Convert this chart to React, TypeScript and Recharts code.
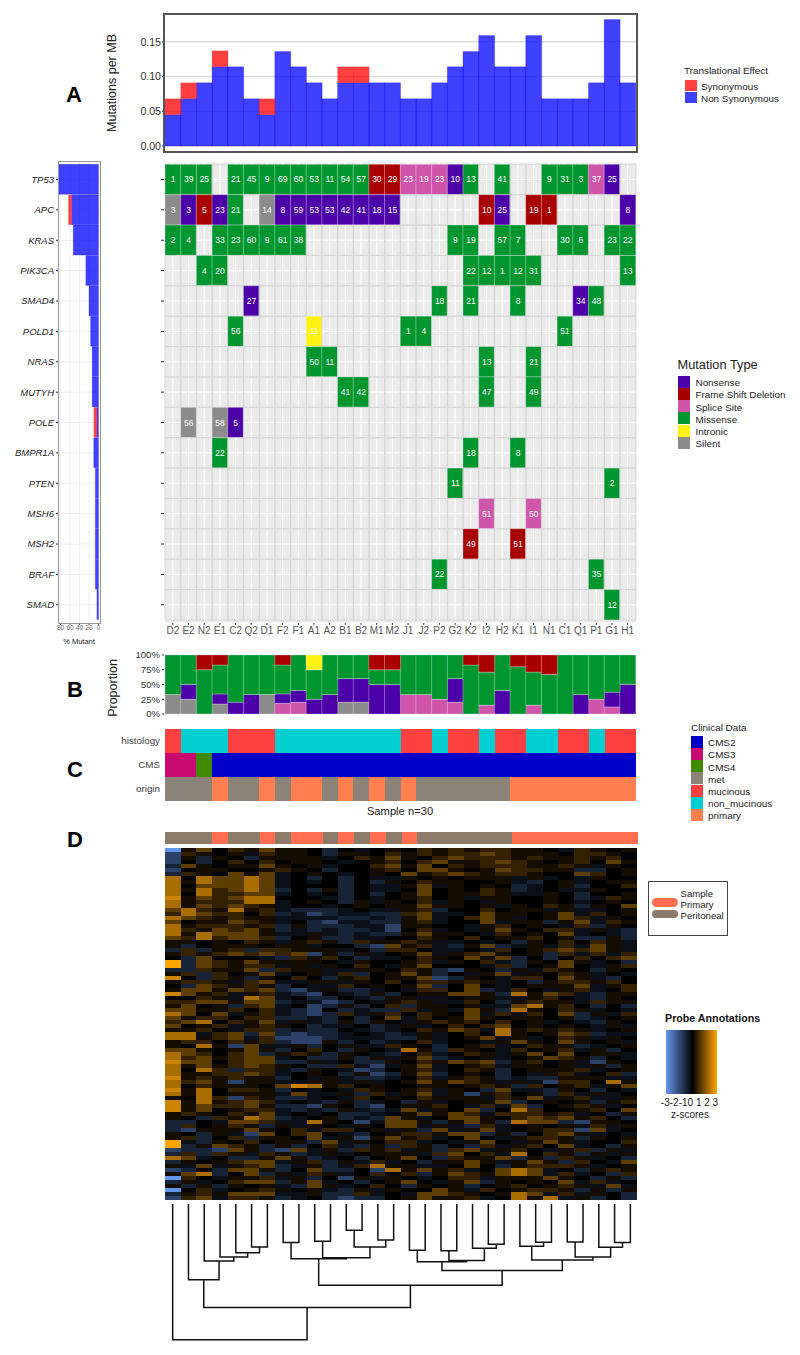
import {
  BarChart,
  Bar,
  Cell,
  LineChart,
  Line,
  LabelList,
  XAxis,
  YAxis,
  CartesianGrid,
} from 'recharts';

const samples = ['D2', 'E2', 'N2', 'E1', 'C2', 'Q2', 'D1', 'F2', 'F1', 'A1', 'A2', 'B1', 'B2', 'M1', 'M2', 'J1', 'J2', 'P2', 'G2', 'K2', 'I2', 'H2', 'K1', 'I1', 'N1', 'C1', 'Q1', 'P1', 'G1', 'H1'];

// Panel A, mutation burden
const nonSynonymous = [0.045, 0.068, 0.091, 0.114, 0.114, 0.068, 0.045, 0.136, 0.114, 0.091, 0.068, 0.091, 0.091, 0.091, 0.091, 0.068, 0.068, 0.091, 0.114, 0.136, 0.159, 0.114, 0.114, 0.159, 0.068, 0.068, 0.068, 0.091, 0.182, 0.091];
const synonymous = [0.023, 0.023, 0, 0.023, 0, 0, 0.023, 0, 0, 0, 0, 0.023, 0.023, 0, 0, 0, 0, 0, 0, 0, 0, 0, 0, 0, 0, 0, 0, 0, 0, 0];

// Oncoplot rows: type letter per sample, then the number printed in the tile
const genes = ['TP53', 'APC', 'KRAS', 'PIK3CA', 'SMAD4', 'POLD1', 'NRAS', 'MUTYH', 'POLE', 'BMPR1A', 'PTEN', 'MSH6', 'MSH2', 'BRAF', 'SMAD'];
const geneTypes = [
  'MMM.MMMMMMMMMFFSSSNM.M..MMMSN.',
  'GNFNM.GNNNNNNNN.....FN.FF....N',
  'MM.MMMMMM.........MM.MM..MM.MM',
  '..MM...............MMMMM.....M',
  '.....N...........M.M..M...NM..',
  '....M....I.....MM........M....',
  '.........MM.........M..M......',
  '...........MM.......M..M......',
  '.G.GN.........................',
  '...M...............M..M.......',
  '..................M.........M.',
  '....................S..S......',
  '...................F..F.......',
  '.................M.........M..',
  '............................M.',
];
const geneVaf = [
  [1, 39, 25, 0, 21, 45, 9, 69, 60, 53, 11, 54, 57, 30, 29, 23, 19, 23, 10, 13, 0, 41, 0, 0, 9, 31, 3, 37, 25, 0],
  [3, 3, 5, 23, 21, 0, 14, 8, 59, 53, 53, 42, 41, 18, 15, 0, 0, 0, 0, 0, 10, 25, 0, 19, 1, 0, 0, 0, 0, 8],
  [2, 4, 0, 33, 23, 60, 9, 61, 38, 0, 0, 0, 0, 0, 0, 0, 0, 0, 9, 19, 0, 57, 7, 0, 0, 30, 6, 0, 23, 22],
  [0, 0, 4, 20, 0, 0, 0, 0, 0, 0, 0, 0, 0, 0, 0, 0, 0, 0, 0, 22, 12, 1, 12, 31, 0, 0, 0, 0, 0, 13],
  [0, 0, 0, 0, 0, 27, 0, 0, 0, 0, 0, 0, 0, 0, 0, 0, 0, 18, 0, 21, 0, 0, 8, 0, 0, 0, 34, 48, 0, 0],
  [0, 0, 0, 0, 56, 0, 0, 0, 0, 11, 0, 0, 0, 0, 0, 1, 4, 0, 0, 0, 0, 0, 0, 0, 0, 51, 0, 0, 0, 0],
  [0, 0, 0, 0, 0, 0, 0, 0, 0, 50, 11, 0, 0, 0, 0, 0, 0, 0, 0, 0, 13, 0, 0, 21, 0, 0, 0, 0, 0, 0],
  [0, 0, 0, 0, 0, 0, 0, 0, 0, 0, 0, 41, 42, 0, 0, 0, 0, 0, 0, 0, 47, 0, 0, 49, 0, 0, 0, 0, 0, 0],
  [0, 56, 0, 58, 5, 0, 0, 0, 0, 0, 0, 0, 0, 0, 0, 0, 0, 0, 0, 0, 0, 0, 0, 0, 0, 0, 0, 0, 0, 0],
  [0, 0, 0, 22, 0, 0, 0, 0, 0, 0, 0, 0, 0, 0, 0, 0, 0, 0, 0, 18, 0, 0, 8, 0, 0, 0, 0, 0, 0, 0],
  [0, 0, 0, 0, 0, 0, 0, 0, 0, 0, 0, 0, 0, 0, 0, 0, 0, 0, 11, 0, 0, 0, 0, 0, 0, 0, 0, 0, 2, 0],
  [0, 0, 0, 0, 0, 0, 0, 0, 0, 0, 0, 0, 0, 0, 0, 0, 0, 0, 0, 0, 51, 0, 0, 50, 0, 0, 0, 0, 0, 0],
  [0, 0, 0, 0, 0, 0, 0, 0, 0, 0, 0, 0, 0, 0, 0, 0, 0, 0, 0, 49, 0, 0, 51, 0, 0, 0, 0, 0, 0, 0],
  [0, 0, 0, 0, 0, 0, 0, 0, 0, 0, 0, 0, 0, 0, 0, 0, 0, 22, 0, 0, 0, 0, 0, 0, 0, 0, 0, 35, 0, 0],
  [0, 0, 0, 0, 0, 0, 0, 0, 0, 0, 0, 0, 0, 0, 0, 0, 0, 0, 0, 0, 0, 0, 0, 0, 0, 0, 0, 0, 12, 0],
];
const typeColors: Record<string, string> = { N: '#4b00a8', F: '#a80000', S: '#cf55ab', M: '#00962f', I: '#fff314', G: '#8c8c8c' };

// % mutant per gene, left bars
const pctNonSyn = [83.3, 56.7, 53.3, 26.7, 20, 16.7, 13.3, 13.3, 3.3, 10, 6.7, 6.7, 6.7, 6.7, 3.3];
const pctSyn = [0, 6.7, 0, 0, 0, 0, 0, 0, 6.7, 0, 0, 0, 0, 0, 0];

// Panel B, proportion of each type per sample (stack order as drawn)
const propSilent = [33, 25, 0, 17, 0, 0, 33, 0, 0, 0, 0, 20, 20, 0, 0, 0, 0, 0, 0, 0, 0, 0, 0, 0, 0, 0, 0, 0, 0, 0];
const propSplice = [0, 0, 0, 0, 0, 0, 0, 18, 20, 0, 0, 0, 0, 0, 0, 33, 33, 25, 20, 0, 15, 0, 0, 15, 0, 0, 0, 25, 12, 0];
const propNonsense = [0, 25, 0, 17, 20, 33, 0, 16, 20, 25, 33, 40, 40, 50, 50, 0, 0, 0, 40, 0, 0, 40, 0, 0, 0, 0, 33, 0, 25, 50];
const propMissense = [67, 50, 75, 49, 80, 67, 67, 49, 60, 50, 67, 40, 40, 25, 25, 67, 67, 75, 40, 83, 56, 60, 80, 56, 67, 100, 67, 75, 63, 50];
const propIntronic = [0, 0, 0, 0, 0, 0, 0, 0, 0, 25, 0, 0, 0, 0, 0, 0, 0, 0, 0, 0, 0, 0, 0, 0, 0, 0, 0, 0, 0, 0];
const propFrameShift = [0, 0, 25, 17, 0, 0, 0, 17, 0, 0, 0, 0, 0, 25, 25, 0, 0, 0, 0, 17, 29, 0, 20, 29, 33, 0, 0, 0, 0, 0];

// Panel C, clinical tracks
const histology = 'mnnnmmmnnnnnnnnmmnmmnmmnnmmnmm';
const cms = ['CMS3', 'CMS3', 'CMS4', ...Array(27).fill('CMS2')];
const origin = 'mmmpmmpmppmpmpmpmmmmmmpppppppp';
const histologyColors: Record<string, string> = { m: '#ff4040', n: '#00ced1' };
const cmsColors: Record<string, string> = { CMS2: '#0000c8', CMS3: '#c8096f', CMS4: '#3f8a00' };
const originColors: Record<string, string> = { m: '#8b8378', p: '#ff7f50' };
const sampleColors: Record<string, string> = { m: '#8b7b68', p: '#ff6e50' };

// Panel D, expression levels, one letter per cell:
// a b c d = blue side, 0 = black, 1..6 = orange side
const heatLevels: Record<string, number> = { a: -3, b: -1.3, c: -0.7, d: -0.3, 0: 0, 1: 0.25, 2: 0.6, 3: 1.1, 4: 2, 5: 2.4, 6: 3 };
const heatTop = [
  'a1302 13110 c0d01 02121 22110 d2101',
  'b2101 d2110 c1102 12122 32111 02210',
  'b1c10 c1111 d0213 10232 22121 12120',
  'b0c02 02011 0d012 02311 23210 12031',
  'c3101 13101 d0023 13021 22211 21d10',
  'b0110 01210 c0012 03310 13221 1cc01',
  'c2103 13d01 0d010 31232 12210 03201',
  '40433 43d0c 0c0dd 10101 11d1d 0d100',
  '41433 43d0d 0c0c1 02110 01dc0 1d011',
  '40333 43d00 0c0dd 13d10 10cd0 1c002',
  '41423 43c0c 1c0dd 03010 21cd0 dd100',
  '40422 33d0d 0c0c0 13011 21dd1 0c001',
  '51323 44000 dc0d0 1201d 11001 0cd21',
  '41222 44d01 0c1d1 02d10 d1001 0d010',
  '41323 21d00 d0101 13110 1d102 1c103',
  '34214 12dcc cd0dd 12c00 2011d 1dd01',
  '24322 02cdb cddcc 23dd0 31101 3d201',
  '43212 11ddd dccdc 13d02 31d01 32d10',
  '30113 21d0c bddcc 12d00 3d11c 13d21',
  '41222 12c1c ccddb 1100d 12010 d2c10',
  '42132 31cdc dccdb 02d0d 13102 2d1dc',
  '41433 31dd1 dcdcc 13110 d2010 3d0dc',
  '32423 32c01 ccdd0 02102 01120 1cc1c',
  '11010 21d12 1c211 21dd0 d0c10 2021d',
  '1c011 1011d 00cb3 12dc1 3cd1d 2d31d',
  'c2c12 c2211 1d0c2 20dd0 d2012 3231d',
  '12123 2323b 1c1d0 13d12 3101c 2d2d2',
  '0c300 0dc21 20cdd 02103 13c0c 02023',
  '6c321 31111 0d100 12d10 2dc10 31d0c',
  '6c321 22d1d 1020d 13000 d2c01 30d12',
  'cc211 3c211 dd110 21cb1 0c1d2 10c10',
  '12c20 13d01 d2c01 31c0d 13d10 21d0d',
  '50c21 c1020 c1201 13bc1 0d220 31dc0',
  '1221d 23dd1 1d102 02212 1d0c1 22120',
  '0c321 21c0d d2010 13c03 0d011 13d12',
  '13313 23cbd 1ccd0 d2203 cd20d 12d02',
  '5312d 12dcb 0dc1c 01133 1c413 2dc11',
  '0021d 43d0c c0dc1 1dd01 1dd12 0dc10',
  '22331 33cdd bc0d1 21dd2 0c121 1d211',
  '1301c 23d0b c1c02 c1101 dd341 20c0c',
  '33112 02dcb 0cdcc 2d1d3 1c410 21d0d',
  '4303d 12dcb c2d12 02103 d2d20 3c1d2',
  '31220 22ccd c0c03 d2013 10110 1cd01',
  '23402 13d1d c1c10 d1212 0201d 0dc10',
];
const heatBottom = [
  '3012d 1210c dd0cd 1d020 23010 10d1d',
  '1120d 22cdc c0dcd 02132 d4121 21d01',
  '44d23 c3cbc cd0dc d1d02 04101 32cdd',
  '44123 d2bbb cdddc c1d01 3d1d0 21d10',
  '12202 12cbb 1c0cd 02d00 d1310 3101d',
  '1041b 3dd1c 01dd2 10c01 2d021 1cd01',
  '33101 31c02 0c10d 41c21 0d201 2d1c0',
  '43202 3c121 c10dc 02d02 1d130 3011d',
  '42312 33d0c c1c1d 13cd0 1d013 21c0d',
  '53302 33cc1 d0cc1 02132 3c120 1db10',
  '41312 3210c c2dbd 13d01 2d110 1d1c1',
  '4042c 22dc1 0dbc0 12d02 1c011 12d01',
  '41122 32d01 0c1bc 13c01 0c0d1 2d02c',
  '51212 11c0d 1dccd 02d12 1cdcc 111dd',
  '4231b 11dd1 1d1d0 13132 1d1db 22041',
  '40211 10354 12010 01101 21c20 12d13',
  '51402 21c0d 0d210 12d10 c3ddc 10c0d',
  '41401 11d3d d1c2d 13d1b 1201c 2d1d0',
  '1042b 21ccd 0d201 02111 d213d 12dd1',
  '51412 32d0d c1cd0 c1d01 13c01 01c12',
  '51322 31ccb 10cb0 1120d 2d3c0 121d0',
  '51301 22dcd c1dcd 3d103 c0420 01203',
  '12102 13d0d 0ccd0 13132 d2221 2d0c1',
  '10c21 43cd0 1cdc3 1d033 10232 3120c',
  'cc0d3 32dd4 10bd3 31c13 1c433 cb110',
  'c2012 1c1d1 0d103 3d1dc 2d010 1d2d1',
  'cb111 3102d 2201d 1c3d1 3d012 2b3d0',
  '10c1d b3023 0dc01 22133 c1c02 31d0d',
  '12c02 c1103 d1b13 12d03 0d122 1c101',
  '6dc10 2011c 3d102 2d0d1 30d13 1d002',
  '6c132 1c1c0 2dc1c 21c0c 2d120 3d0c1',
  'bccb3 1cb3d 1c212 d1c23 d120d 12c1d',
  'c2c21 d21cd 1d011 1d230 2d402 1c1d1',
  '43d0c c131c d0c01 30c21 13c1c 21d0c',
  'c1012 33d12 c1d2d 0c113 1d131 c20d3',
  '1d3d1 23cd1 cd241 1dd03 0c122 21d01',
  'bc0c3 31c03 cc0b4 1312d 0343d 0c121',
  '134c0 3c1d2 1d020 2c132 1343d 2d0c2',
  'a20d1 12d1c 0b1d1 0d022 d1113 10c1c',
  'c1d02 33c13 d0c01 30d13 c1010 3d2d0',
  '1c1c1 01dc3 1d020 c101c 01201 21d3d',
  'a02d0 12101 dc1d1 0031d 20122 1c1c1',
  'c1213 33dd1 cc2d0 d3321 0143d 2d10c',
  'b23d2 21cd0 cbcc0 13112 d0414 d1c0c',
];
const heatRows = [...heatTop, ...heatBottom].map((r) => r.replace(/ /g, ''));

// Dendrogram merges: left child, right child, height. A child >= 0 is a sample
// position, a negative child -n is the n-th merge in this list.
const merges: [number, number, number][] = [
  [5, 6, 42.7], [4, -1, 48.3], [3, -2, 52.7], [2, -3, 56.7], [1, -4, 75.3],
  [7, 8, 38.3], [9, 10, 37], [11, 12, 26], [13, 14, 35.7], [-8, -9, 42.7],
  [-7, -10, 53.3], [-6, -11, 54.3], [15, 16, 46], [17, 18, 46.3], [20, 21, 40],
  [19, -15, 44], [-14, -16, 56], [-13, -17, 57.3], [23, 24, 38], [22, -19, 42],
  [25, 26, 37.7], [28, 29, 38.3], [27, -22, 43], [-21, -23, 52.7], [-20, -24, 55.7],
  [-18, -25, 66], [-12, -26, 80.7], [-5, -27, 102.7], [0, -28, 134.7],
];

const mutationLegend = [['Nonsense', 'N'], ['Frame Shift Deletion', 'F'], ['Splice Site', 'S'], ['Missense', 'M'], ['Intronic', 'I'], ['Silent', 'G']];
const clinicalLegend = [['CMS2', '#0000c8'], ['CMS3', '#c8096f'], ['CMS4', '#3f8a00'], ['met', '#8b8378'], ['mucinous', '#ff4040'], ['non_mucinous', '#00ced1'], ['primary', '#ff7f50']];

const FONT = '"Liberation Sans", Arial, sans-serif';
const m0 = { top: 0, right: 0, bottom: 0, left: 0 };
const crisp = { shapeRendering: 'crispEdges' };

function heatColor(z: number) {
  const t = Math.min(Math.abs(z) / 3, 1);
  const to = z < 0 ? [100, 149, 237] : [255, 165, 0];
  return `rgb(${Math.round(to[0] * t)},${Math.round(to[1] * t)},${Math.round(to[2] * t)})`;
}

function Txt({ x, y, size = 9.9, bold, color = '#222', center, rotate, children }: any) {
  const shift = center ? 'translate(-50%,-50%)' : 'translateY(-50%)';
  return (
    <div style={{ position: 'absolute', left: x, top: y, fontSize: size, fontWeight: bold ? 700 : 400, color, whiteSpace: 'nowrap', transform: rotate ? `${shift} rotate(-90deg)` : shift }}>
      {children}
    </div>
  );
}

function Box({ x, y, w, h, color, border, radius }: any) {
  return <div style={{ position: 'absolute', left: x, top: y, width: w, height: h, background: color, border, borderRadius: radius, boxSizing: 'border-box' }} />;
}

function Place({ x, y, children, style }: any) {
  return <div style={{ position: 'absolute', left: x, top: y, ...style }}>{children}</div>;
}

const emptyTick = () => <g />;

function MutationBurden() {
  const data = samples.map((s, i) => ({ s, non: nonSynonymous[i], syn: synonymous[i] }));
  return (
    <BarChart width={637} height={138} data={data} margin={m0} barCategoryGap={0}>
      <CartesianGrid horizontal vertical={false} stroke="#dcdcdc" strokeWidth={1.4} />
      <XAxis dataKey="s" hide padding={{ left: 1, right: 1.5 }} />
      <YAxis width={164} domain={[-0.0086, 0.19]} ticks={[0, 0.05, 0.1, 0.15]} interval={0} tickFormatter={(v) => v.toFixed(2)} allowDataOverflow axisLine={false} tickSize={2} tickMargin={1} tick={{ fontSize: 10.6, fill: '#333' }} tickLine={{ stroke: '#333' }} />
      <Bar dataKey="non" stackId="a" fill="#0000ff" fillOpacity={0.75} stroke="#0000ff" strokeOpacity={0.2} isAnimationActive={false} />
      <Bar dataKey="syn" stackId="a" fill="#ff0000" fillOpacity={0.75} stroke="#ff0000" strokeOpacity={0.1} isAnimationActive={false} />
    </BarChart>
  );
}

function GeneBars() {
  const data = genes.map((g, i) => ({ g, non: pctNonSyn[i], syn: pctSyn[i] }));
  return (
    <BarChart layout="vertical" width={100} height={487} data={data} margin={m0} barCategoryGap={0}>
      <CartesianGrid stroke="#f0f0f0" />
      <XAxis type="number" reversed domain={[-3.2, 85.3]} ticks={[80, 60, 40, 20, 0]} interval={0} allowDataOverflow axisLine={false} tickSize={2} tickMargin={0} height={26} tick={{ fontSize: 6.5, fill: '#666' }} tickLine={{ stroke: '#555' }} />
      <YAxis type="category" dataKey="g" width={58} interval={0} padding={{ top: 2.3, bottom: 3 }} axisLine={false} tickSize={2} tickMargin={2} tick={{ fontSize: 9.5, fontStyle: 'italic', fill: '#222' }} tickLine={{ stroke: '#333' }} />
      <Bar dataKey="non" stackId="a" fill="#0000ff" fillOpacity={0.75} stroke="#0000ff" strokeOpacity={0.2} isAnimationActive={false} />
      <Bar dataKey="syn" stackId="a" fill="#ff0000" fillOpacity={0.75} isAnimationActive={false} />
    </BarChart>
  );
}

function OncoPlot() {
  const data = samples.map((s) => {
    const row: Record<string, any> = { s };
    genes.forEach((g) => (row[g] = 1));
    return row;
  });
  return (
    <BarChart width={637} height={491} data={data} margin={m0} barCategoryGap={0}>
      <CartesianGrid fill="#ebebeb" fillOpacity={1} stroke="#ffffff" strokeWidth={1.2} />
      <XAxis dataKey="s" interval={0} height={30} padding={{ left: 1, right: 1.5 }} axisLine={false} tickSize={2} tickMargin={2} tick={{ fontSize: 10, fill: '#555' }} tickLine={{ stroke: '#444' }} />
      <YAxis width={164} reversed domain={[-0.076, 15.1]} ticks={genes.map((_, i) => i + 0.5)} interval={0} allowDataOverflow axisLine={false} tick={emptyTick} tickSize={3} tickLine={{ stroke: '#333' }} />
      {genes.map((g, row) => (
        <Bar key={g} dataKey={g} stackId="a" isAnimationActive={false}>
          {samples.map((s, i) => {
            const t = geneTypes[row][i];
            return t === '.'
              ? <Cell key={s} fill="none" stroke="#d6d6d6" strokeOpacity={0.9} />
              : <Cell key={s} fill={typeColors[t]} stroke="#ffffff" strokeOpacity={0.3} />;
          })}
          <LabelList
            dataKey={g}
            content={(p: any) =>
              geneVaf[row][p.index] ? (
                <text x={p.x + p.width / 2} y={p.y + p.height / 2 + 3} textAnchor="middle" fontSize={8.5} fill="#ffffff">
                  {geneVaf[row][p.index]}
                </text>
              ) : null
            }
          />
        </Bar>
      ))}
    </BarChart>
  );
}

function Proportions() {
  const data = samples.map((s, i) => ({
    s,
    G: propSilent[i],
    S: propSplice[i],
    N: propNonsense[i],
    M: propMissense[i],
    I: propIntronic[i],
    F: propFrameShift[i],
  }));
  return (
    <BarChart width={637} height={75} data={data} margin={{ top: 8, right: 0, bottom: 8, left: 0 }} barCategoryGap={0}>
      <XAxis dataKey="s" hide padding={{ left: 1, right: 1.5 }} />
      <YAxis width={164} domain={[0, 100]} ticks={[0, 25, 50, 75, 100]} interval={0} tickFormatter={(v) => `${v}%`} axisLine={false} tickSize={2} tickMargin={2} tick={{ fontSize: 9.6, fill: '#333' }} tickLine={{ stroke: '#333' }} />
      {['G', 'S', 'N', 'M', 'I', 'F'].map((k) => (
        <Bar key={k} dataKey={k} stackId="a" fill={typeColors[k]} stroke="#ffffff" strokeOpacity={0.25} isAnimationActive={false} />
      ))}
    </BarChart>
  );
}

function ClinicalTracks() {
  const names = ['histology', 'CMS', 'origin'];
  const data = samples.map((s) => ({ s, histology: 1, CMS: 1, origin: 1 }));
  const fills = [
    samples.map((_, i) => histologyColors[histology[i]]),
    samples.map((_, i) => cmsColors[cms[i]]),
    samples.map((_, i) => originColors[origin[i]]),
  ];
  return (
    <BarChart width={637} height={72} data={data} margin={m0} barCategoryGap={0}>
      <XAxis dataKey="s" hide padding={{ left: 1, right: 1 }} />
      <YAxis width={164} reversed domain={[0, 3]} ticks={[0.5, 1.5, 2.5]} interval={0} tickFormatter={(v) => names[Math.floor(v)]} axisLine={false} tickLine={false} tickSize={0} tickMargin={4} tick={{ fontSize: 9.8, fill: '#444' }} />
      {names.map((n, row) => (
        <Bar key={n} dataKey={n} stackId="a" isAnimationActive={false}>
          {samples.map((s, i) => <Cell key={s} fill={fills[row][i]} />)}
        </Bar>
      ))}
    </BarChart>
  );
}

function SampleBar() {
  const data = samples.map((s) => ({ s, v: 1 }));
  return (
    <BarChart width={473} height={12} data={data} margin={m0} barCategoryGap={0}>
      <XAxis dataKey="s" hide />
      <YAxis hide domain={[0, 1]} />
      <Bar dataKey="v" isAnimationActive={false}>
        {samples.map((s, i) => <Cell key={s} fill={sampleColors[origin[i]]} />)}
      </Bar>
    </BarChart>
  );
}

function Heatmap() {
  const keys = heatRows.map((_, i) => `r${i}`);
  const data = samples.map((s) => {
    const row: Record<string, any> = { s };
    keys.forEach((k) => (row[k] = 1));
    return row;
  });
  return (
    <BarChart width={472} height={352} data={data} margin={m0} barCategoryGap={0}>
      <XAxis dataKey="s" hide />
      <YAxis hide reversed domain={[0, heatRows.length]} />
      {keys.map((k, row) => (
        <Bar key={k} dataKey={k} stackId="a" isAnimationActive={false}>
          {samples.map((s, i) => <Cell key={s} fill={heatColor(heatLevels[heatRows[row][i]])} />)}
        </Bar>
      ))}
    </BarChart>
  );
}

function Dendrogram() {
  const nodes: { x: number; h: number }[] = [];
  const child = (c: number) => (c >= 0 ? { x: c, h: 0 } : nodes[-c - 1]);
  const series = merges.map(([l, r, h]) => {
    const a = child(l);
    const b = child(r);
    nodes.push({ x: (a.x + b.x) / 2, h });
    return [{ x: a.x, h: a.h }, { x: a.x, h }, { x: b.x, h }, { x: b.x, h: b.h }];
  });
  return (
    <LineChart width={473} height={137} margin={m0}>
      <XAxis type="number" dataKey="x" hide domain={[-0.55, 29.42]} />
      <YAxis type="number" hide reversed domain={[0, 136]} />
      {series.map((pts, i) => (
        <Line key={i} data={pts} dataKey="h" type="linear" stroke="#111" strokeWidth={1.5} dot={false} legendType="none" isAnimationActive={false} />
      ))}
    </LineChart>
  );
}

export default function App() {
  return (
    <div style={{ position: 'absolute', left: 0, top: 0, width: 800, height: 1355, background: '#fff', fontFamily: FONT, overflow: 'hidden' }}>
      <Txt x={74} y={95} size={22} bold color="#000" center>A</Txt>
      <Txt x={75} y={690} size={22} bold color="#000" center>B</Txt>
      <Txt x={75} y={770} size={22} bold color="#000" center>C</Txt>
      <Txt x={75} y={840} size={22} bold color="#000" center>D</Txt>

      {/* Panel A */}
      <Place x={0} y={14}><MutationBurden /></Place>
      <Box x={163} y={13} w={475} h={140} border="2px solid #555" />
      <Txt x={112} y={83} size={12.5} color="#222" center rotate>Mutations per MB</Txt>

      <Txt x={684} y={70}>Translational Effect</Txt>
      <Box x={684.5} y={79.5} w={12} h={11.5} color="#ff4040" />
      <Box x={684.5} y={91.5} w={12} h={11.5} color="#4040ff" />
      <Txt x={701} y={85.5}>Synonymous</Txt>
      <Txt x={701} y={97.5}>Non Synonymous</Txt>

      {/* Oncoplot and gene bars */}
      <Place x={0} y={162}><GeneBars /></Place>
      <Box x={57.5} y={161} w={43} h={463} border="1.5px solid #999" />
      <Txt x={79} y={641} size={7.5} color="#222" center>% Mutant</Txt>
      <Place x={0} y={162}><OncoPlot /></Place>

      <Txt x={677.5} y={364} size={12.8}>Mutation Type</Txt>
      {mutationLegend.map(([label, key], i) => (
        <div key={key}>
          <Box x={677.5} y={376 + i * 12.15} w={12} h={12} color={typeColors[key]} />
          <Txt x={695.5} y={382.3 + i * 12.15}>{label}</Txt>
        </div>
      ))}

      {/* Panel B */}
      <Place x={0} y={647}><Proportions /></Place>
      <Txt x={113} y={688} size={12.5} center rotate>Proportion</Txt>

      {/* Panel C */}
      <Place x={0} y={728.5} style={crisp}><ClinicalTracks /></Place>
      <Txt x={400} y={811} size={11.2} center>Sample n=30</Txt>

      <Txt x={691} y={726.5}>Clinical Data</Txt>
      {clinicalLegend.map(([label, color], i) => (
        <div key={label}>
          <Box x={691} y={736 + i * 12.15} w={12} h={12} color={color} />
          <Txt x={708} y={742.3 + i * 12.15}>{label}</Txt>
        </div>
      ))}

      {/* Panel D */}
      <Place x={165} y={832} style={crisp}><SampleBar /></Place>
      <Place x={164.5} y={848} style={crisp}><Heatmap /></Place>
      <Place x={164} y={1204}><Dendrogram /></Place>

      <Box x={648} y={881} w={80} h={54.5} border="1.5px solid #444" />
      <Txt x={680.5} y={893} size={9.6}>Sample</Txt>
      <Txt x={680.5} y={903.5} size={9.6}>Primary</Txt>
      <Txt x={680.5} y={915} size={9.6}>Peritoneal</Txt>
      <Box x={652} y={897.5} w={25.5} h={9.5} color="#ff6e50" radius={5} />
      <Box x={652} y={909.5} w={25.5} h={8.5} color="#8b7b68" radius={5} />

      <Txt x={665} y={1018} size={10.7} bold color="#111">Probe Annotations</Txt>
      <div style={{ position: 'absolute', left: 666, top: 1029.5, width: 51, height: 64, background: 'linear-gradient(to right, #6495ed 0%, #000 52%, #ffa500 100%)' }} />
      <Txt x={689.5} y={1102} size={10} center>-3-2-10 1 2 3</Txt>
      <Txt x={690} y={1114} size={10} center>z-scores</Txt>
    </div>
  );
}
